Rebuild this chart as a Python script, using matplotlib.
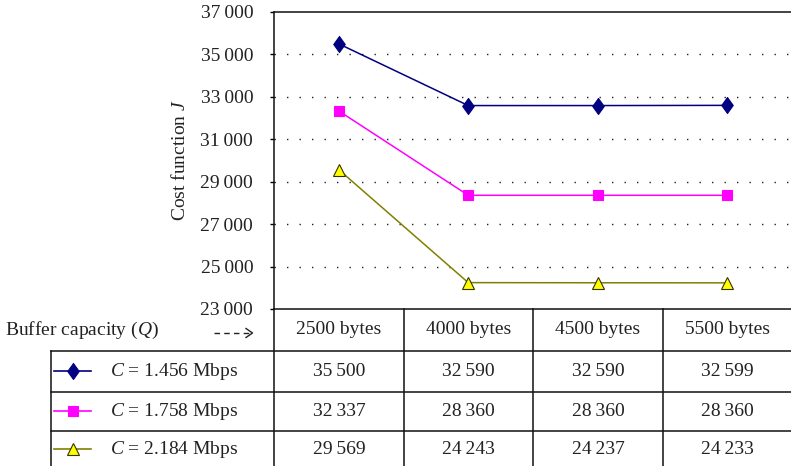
import matplotlib
matplotlib.use("Agg")
import matplotlib.pyplot as plt
from matplotlib.lines import Line2D

plt.rcParams['font.family'] = ['Liberation Serif', 'DejaVu Serif']
plt.rcParams['mathtext.fontset'] = 'custom'
plt.rcParams['mathtext.rm'] = 'Liberation Serif'
plt.rcParams['mathtext.it'] = 'Liberation Serif:italic'

# ---- data ----
buffer_labels = ["2500 bytes", "4000 bytes", "4500 bytes", "5500 bytes"]
series_names = ["1.456", "1.758", "2.184"]
c1456 = [35500, 32590, 32590, 32599]
c1758 = [32337, 28360, 28360, 28360]
c2184 = [29569, 24243, 24237, 24233]
y_ticks = [23000, 25000, 27000, 29000, 31000, 33000, 35000, 37000]

series = [c1456, c1758, c2184]
diamond = [(0, 1), (0.72, 0), (0, -1), (-0.72, 0), (0, 1)]
styles = [
    dict(color="#000080", marker=diamond, ms=11.5, mfc="#000080", mec="#000080"),
    dict(color="#FF00FF", marker="s", ms=7, mfc="#FF00FF", mec="#FF00FF"),
    dict(color="#808000", marker="^", ms=9, mfc="#FFFF00", mec="#333300"),
]
FS = 14
TC = "#222222"

W, H = 791, 466
fig = plt.figure(figsize=(W / 100, H / 100), dpi=100)

# main axes in pixel layout
x0, x1, ytop, ybot = 274, 792, 12, 309
ax = fig.add_axes([x0 / W, 1 - ybot / H, (x1 - x0) / W, (ybot - ytop) / H])
xs = list(range(len(buffer_labels)))
for vals, st in zip(series, styles):
    ax.plot(xs, vals, lw=1.1, markeredgewidth=0.8, zorder=3, clip_on=False, **st)

ax.set_xlim(-0.5, len(buffer_labels) - 0.5)
ax.set_ylim(y_ticks[0], y_ticks[-1])
ax.set_yticks(y_ticks)
ax.set_yticklabels([f"{v // 1000}\u2009{v % 1000:03d}" for v in y_ticks], fontsize=FS, color=TC)
ax.set_xticks([])
ax.tick_params(axis="y", direction="out", length=3, width=1.0, pad=12)
for v in y_ticks[1:-1]:
    ax.axhline(v, color="#222222", lw=1.0, ls=(0, (1, 8)), zorder=1)
ax.spines["right"].set_visible(False)
for s in ["left", "top", "bottom"]:
    ax.spines[s].set_linewidth(1.1)
    ax.spines[s].set_color("#111111")
ax.set_ylabel("Cost function $J$", fontsize=FS, labelpad=8, color=TC)

# overlay axes for table (pixel coords)
ov = fig.add_axes([0, 0, 1, 1], zorder=5)
ov.set_xlim(0, W)
ov.set_ylim(H, 0)
ov.axis("off")
ov.patch.set_alpha(0)

lc = "#111111"
lw = 1.1
col_edges = [274, 404, 533, 663, 792]
row_edges = [309, 351, 391.5, 430.5, 470]
for y in row_edges[1:4]:
    ov.plot([51, W], [y, y], color=lc, lw=lw, clip_on=False)
ov.plot([51, 51], [row_edges[1], H], color=lc, lw=lw)
for x in col_edges[:-1]:
    ov.plot([x, x], [row_edges[0], H], color=lc, lw=lw)

# header row
ov.text(5, 330, "Buffer capacity ($Q$)", fontsize=FS, va="center", ha="left", color=TC)
ov.plot([214, 250], [333, 333], color="#222222", lw=1.0, ls=(0, (4, 3)))
ov.plot([246, 252.5, 246], [328.5, 333, 337.5], color="#222222", lw=1.0)
for i, lab in enumerate(buffer_labels):
    cx = (col_edges[i] + col_edges[i + 1]) / 2
    ov.text(cx, 330, lab, fontsize=FS, ha="center", va="center", color=TC)

def fmt(v):
    return f"{v // 1000}\u2009{v % 1000:03d}"

for r, (vals, st, name) in enumerate(zip(series, styles, series_names)):
    cy = (row_edges[r + 1] + row_edges[r + 2]) / 2
    if r == 2:
        cy = 449
    ov.add_line(Line2D([54, 91], [cy, cy], color=st["color"], lw=1.2))
    ov.add_line(Line2D([72.5], [cy], marker=st["marker"], ms=st["ms"],
                       mfc=st["mfc"], mec=st["mec"], mew=0.8, ls="none"))
    ov.text(110, cy, f"$C$ = {name} Mbps", fontsize=FS, ha="left", va="center", color=TC)
    for i, v in enumerate(vals):
        cx = (col_edges[i] + col_edges[i + 1]) / 2
        ov.text(cx, cy, fmt(v), fontsize=FS, ha="center", va="center", color=TC)

fig.savefig("out.png", dpi=100)
